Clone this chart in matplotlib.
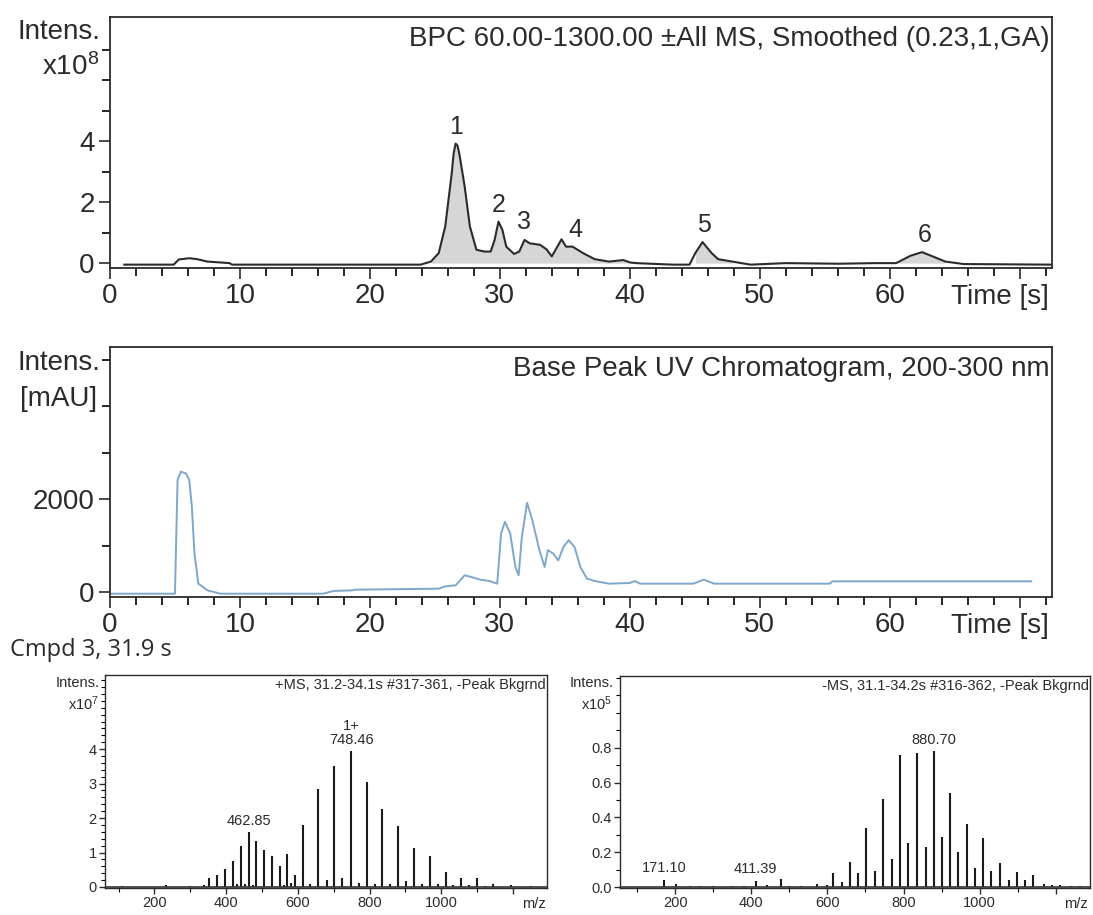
import matplotlib
matplotlib.use("Agg")
import matplotlib.pyplot as plt
from matplotlib.ticker import MultipleLocator, FixedLocator, FixedFormatter
import numpy as np

plt.rcParams['font.family'] = ['Liberation Sans', 'DejaVu Sans']
plt.rcParams['mathtext.fontset'] = 'custom'
plt.rcParams['mathtext.rm'] = 'Liberation Sans'
plt.rcParams['mathtext.it'] = 'Liberation Sans'

# ---------------- data ----------------
# Base peak chromatogram (x1e8)
bpc_time = [1.1, 4.9, 5.3, 6.1, 6.7, 7.5, 8.2, 9.2, 9.4, 15.0, 20.0, 23.9, 24.7, 25.3, 25.8,
            26.3, 26.45, 26.6, 26.75, 26.9, 27.3, 27.7, 28.2, 28.8, 29.3, 29.6, 29.9, 30.2,
            30.5, 31.1, 31.5, 31.9, 32.3, 33.1, 33.6, 34.0, 34.75, 35.1, 35.6, 36.4, 37.3,
            38.4, 39.5, 40.05, 40.5, 43.3, 44.6, 45.05, 45.6, 46.3, 46.8, 47.9, 49.3, 52.0,
            56.1, 58.85, 60.5, 61.6, 62.5, 63.2, 64.3, 65.7, 72.4]
bpc_int = [-0.05, -0.05, 0.12, 0.16, 0.13, 0.05, 0.03, 0.0, -0.05, -0.05, -0.05, -0.05, 0.05,
           0.33, 1.2, 2.94, 3.6, 3.92, 3.85, 3.55, 2.5, 1.2, 0.44, 0.38, 0.38, 0.76, 1.36,
           1.09, 0.54, 0.3, 0.38, 0.76, 0.65, 0.6, 0.45, 0.22, 0.78, 0.54, 0.54, 0.33, 0.13,
           0.05, 0.1, 0.02, 0.0, -0.05, -0.05, 0.33, 0.69, 0.33, 0.13, 0.05, -0.05, 0.0,
           -0.02, 0.0, 0.0, 0.24, 0.36, 0.24, 0.05, -0.03, -0.05]
# integrated regions (start, end) in s
bpc_regions = [(24.5, 40.3), (44.7, 48.5), (60.5, 65.0)]
peak_labels = ['1', '2', '3', '4', '5', '6']
peak_label_t = [26.6, 29.9, 31.9, 35.8, 45.7, 62.7]
peak_label_y = [4.45, 1.9, 1.36, 1.1, 1.25, 0.93]

# UV base peak chromatogram (mAU)
uv_time = [0.05, 5.0, 5.1, 5.2, 5.45, 5.85, 6.1, 6.3, 6.5, 6.8, 7.5, 8.5, 16.4, 17.2, 18.65,
           18.8, 25.3, 25.8, 26.6, 27.3, 27.8, 28.5, 29.2, 29.8, 30.1, 30.4, 30.8, 31.2,
           31.45, 31.7, 32.1, 32.5, 33.05, 33.45, 33.7, 34.1, 34.5, 34.9, 35.3, 35.75, 36.2,
           36.7, 37.3, 38.4, 40.0, 40.4, 40.8, 44.9, 45.7, 46.5, 55.4, 55.6, 70.9]
uv_int = [-36, -36, 1200, 2410, 2590, 2550, 2410, 1830, 830, 180, 36, -36, -36, 22, 36, 50, 72,
          122, 144, 360, 324, 266, 237, 180, 1260, 1510, 1260, 540, 360, 1190, 1920, 1550,
          900, 540, 900, 830, 680, 970, 1115, 970, 540, 290, 237, 180, 194, 237, 180, 180,
          266, 180, 180, 230, 230]

# +MS spectrum (x1e7)
pos_mz = [353, 375, 396, 418.5, 440, 462.85, 484, 505, 528, 549, 571, 593, 613.7, 657.5, 700.5,
          748.46, 792, 836, 880, 924, 968, 1012, 1056, 1100, 1144, 1195,
          110, 232, 300, 338, 430, 452, 474, 560, 580, 635, 680, 724, 770, 815, 858, 902,
          946, 990, 1034, 1078, 1122, 1250]
pos_int = [0.26, 0.34, 0.53, 0.74, 1.2, 1.59, 1.32, 1.08, 0.9, 0.61, 0.96, 0.34, 1.8, 2.84,
           3.52, 3.95, 3.06, 2.25, 1.78, 1.13, 0.89, 0.43, 0.26, 0.26, 0.1, 0.05,
           0.03, 0.05, 0.03, 0.06, 0.08, 0.1, 0.07, 0.05, 0.12, 0.1, 0.2, 0.25, 0.12, 0.1,
           0.1, 0.18, 0.1, 0.08, 0.06, 0.05, 0.04, 0.03]

# -MS spectrum (x1e5)
neg_mz = [171.10, 203, 411.39, 478, 572, 615, 638, 660, 681, 701, 724, 745, 769, 792, 812, 836,
          858, 880.70, 900, 922, 944, 966, 988, 1010, 1031, 1053, 1076, 1097, 1120, 1141, 1170,
          1211, 240, 265, 300, 350, 380, 440, 500, 530, 600, 1190, 1240, 1265]
neg_int = [0.044, 0.02, 0.038, 0.05, 0.02, 0.08, 0.03, 0.146, 0.08, 0.34, 0.095, 0.506, 0.16,
           0.758, 0.256, 0.768, 0.233, 0.78, 0.29, 0.54, 0.2, 0.36, 0.11, 0.28, 0.095, 0.14,
           0.04, 0.09, 0.04, 0.07, 0.02, 0.015, 0.01, 0.008, 0.006, 0.008, 0.01, 0.012, 0.01,
           0.008, 0.015, 0.012, 0.01, 0.008]

DARK = '#2b2b2b'
W, H = 1093, 915
BIG = 20
SMALL = 10.5

fig = plt.figure(figsize=(W / 100, H / 100), dpi=100)


def ax_at(l, t, r, b):
    return fig.add_axes([l / W, 1 - b / H, (r - l) / W, (b - t) / H])


def ftext(x, y, s, size, ha='right', **kw):
    fig.text(x / W, 1 - y / H, s, ha=ha, va='center', fontsize=size, color=DARK, **kw)


def style_box(ax, lw=1.3):
    for s in ax.spines.values():
        s.set_color(DARK)
        s.set_linewidth(lw)
    ax.tick_params(colors=DARK, direction='out')


# ---------------- BPC ----------------
ax1 = ax_at(110, 17, 1052, 268)
style_box(ax1)
t = np.array(bpc_time)
y = np.array(bpc_int)
for a, b in bpc_regions:
    m = (t >= a) & (t <= b)
    ax1.fill_between(t[m], 0, y[m], color='#d6d6d6', lw=0)
ax1.plot(t, y, color=DARK, lw=1.5)
ax1.set_xlim(0, 72.5)
ax1.set_ylim(-0.16, 8.07)
for lab, lt, ly in zip(peak_labels, peak_label_t, peak_label_y):
    ax1.text(lt, ly, lab, ha='center', va='center', fontsize=18, color=DARK)
ax1.text(0.997, 0.965, 'BPC 60.00-1300.00 \u00b1All MS, Smoothed (0.23,1,GA)',
         transform=ax1.transAxes, ha='right', va='top', fontsize=BIG, color=DARK)
ax1.yaxis.set_major_locator(FixedLocator([0, 2, 4]))
ax1.yaxis.set_minor_locator(FixedLocator([1, 3, 5, 6, 7]))

# ---------------- UV ----------------
ax2 = ax_at(110, 347, 1052, 597)
style_box(ax2)
ax2.plot(uv_time, uv_int, color='#7ea7cc', lw=1.4)
ax2.set_xlim(0, 72.5)
ax2.set_ylim(-107, 5270)
ax2.text(0.997, 0.965, 'Base Peak UV Chromatogram, 200-300 nm',
         transform=ax2.transAxes, ha='right', va='top', fontsize=BIG, color=DARK)
ax2.yaxis.set_major_locator(FixedLocator([0, 2000]))
ax2.yaxis.set_minor_locator(FixedLocator([1000, 3000, 4000, 5000]))

for ax in (ax1, ax2):
    ax.xaxis.set_major_locator(FixedLocator([0, 10, 20, 30, 40, 50, 60, 70]))
    ax.xaxis.set_major_formatter(FixedFormatter(['0', '10', '20', '30', '40', '50', '60', '']))
    ax.xaxis.set_minor_locator(MultipleLocator(2))
    ax.tick_params(axis='both', which='major', length=8, width=1.2, labelsize=BIG, pad=3)
    ax.tick_params(axis='both', which='minor', length=6, width=1.2)

ftext(1049, 297, 'Time [s]', BIG)
ftext(1049, 626, 'Time [s]', BIG)
ftext(100, 32, 'Intens.', BIG)
ftext(99, 67, 'x10$^{8}$', BIG)
ftext(100, 363, 'Intens.', BIG)
ftext(97, 399, '[mAU]', BIG)

ftext(10, 650, 'Cmpd 3, 31.9 s', 17, ha='left', family=['Open Sans', 'DejaVu Sans'])

# ---------------- MS spectra ----------------
ax3 = ax_at(105, 675, 547, 888)
ax4 = ax_at(620, 676, 1090, 888)
for ax in (ax3, ax4):
    style_box(ax, 1.0)
ax3.vlines(pos_mz, 0, pos_int, color='#1a1a1a', lw=1.5)
ax3.axhline(0, color='#333333', lw=1.2)
ax3.set_xlim(62, 1295)
ax3.set_ylim(-0.03, 6.15)
ax3.yaxis.set_major_locator(FixedLocator([0, 1, 2, 3, 4]))
ax3.yaxis.set_minor_locator(MultipleLocator(0.2))
ax3.text(0.998, 0.985, '+MS, 31.2-34.1s #317-361, -Peak Bkgrnd', transform=ax3.transAxes,
         ha='right', va='top', fontsize=SMALL, color=DARK)
ax3.text(462.85, 1.59 + 0.12, '462.85', ha='center', va='bottom', fontsize=SMALL, color=DARK)
ax3.text(748.46, 3.95 + 0.12, '1+\n748.46', ha='center', va='bottom', fontsize=SMALL,
         color=DARK, linespacing=1.0)

ax4.vlines(neg_mz, 0, neg_int, color='#1a1a1a', lw=1.5)
ax4.axhline(0, color='#333333', lw=1.2)
ax4.set_xlim(55, 1290)
ax4.set_ylim(-0.004, 1.21)
ax4.yaxis.set_major_locator(FixedLocator([0, 0.2, 0.4, 0.6, 0.8]))
ax4.yaxis.set_major_formatter(FixedFormatter(['0.0', '0.2', '0.4', '0.6', '0.8']))
ax4.yaxis.set_minor_locator(MultipleLocator(0.1))
ax4.text(0.998, 0.985, '-MS, 31.1-34.2s #316-362, -Peak Bkgrnd', transform=ax4.transAxes,
         ha='right', va='top', fontsize=SMALL, color=DARK)
for mz, h in [(171.10, 0.044), (411.39, 0.038), (880.70, 0.78)]:
    ax4.text(mz, h + 0.025, f'{mz:.2f}', ha='center', va='bottom', fontsize=SMALL, color=DARK)

for ax in (ax3, ax4):
    ax.xaxis.set_major_locator(FixedLocator([200, 400, 600, 800, 1000, 1200]))
    ax.xaxis.set_major_formatter(FixedFormatter(['200', '400', '600', '800', '1000', '']))
    ax.xaxis.set_minor_locator(MultipleLocator(100))
    ax.tick_params(axis='both', which='major', length=4, width=1.0, labelsize=SMALL, pad=2)
    ax.tick_params(axis='both', which='minor', length=3, width=0.8)

ftext(546, 904, 'm/z', SMALL)
ftext(1088, 904, 'm/z', SMALL)
ftext(100, 683, 'Intens.', SMALL)
ftext(99, 704, 'x10$^{7}$', SMALL)
ftext(614, 683, 'Intens.', SMALL)
ftext(612, 704, 'x10$^{5}$', SMALL)

fig.savefig('out.png', dpi=100, facecolor='white')
